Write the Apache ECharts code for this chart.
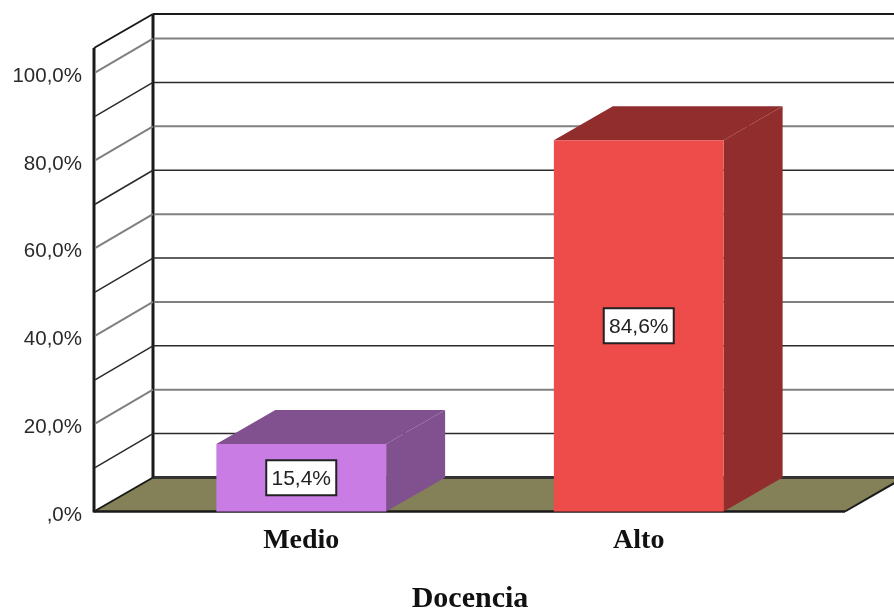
<!DOCTYPE html>
<html>
<head>
<meta charset="utf-8">
<style>html,body{margin:0;padding:0;background:#fff}#c{width:894px;height:608px}</style>
<script src="https://cdn.jsdelivr.net/npm/echarts@6/dist/echarts.min.js"></script>
</head>
<body>
<div id="c"></div>
<script>
const categories = ['Medio', 'Alto'];
const percentValues = [15.4, 84.6];
const valueLabels = ['15,4%', '84,6%'];
const tickLabels = [',0%', '20,0%', '40,0%', '60,0%', '80,0%', '100,0%'];
const gridValues = [10, 20, 30, 40, 50, 60, 70, 80, 90, 100];
const axisName = 'Docencia';
const axisMax = 105.6;

const frontColors = ['#C97CE3', '#EE4B4B'];
const sideColors = ['#81508F', '#912D2D'];
const DX = 59, DY = -34, LEFT_PAD = 38.5, RIGHT_PAD = 37.5, CANVAS_W = 894;

function planeX(api) {
  const band = api.size([1, 0])[0];
  return {
    band,
    left: api.coord([0, 0])[0] - band / 2 - LEFT_PAD,
    right: api.coord([1, 0])[0] + band / 2 + RIGHT_PAD
  };
}

const chart = echarts.init(document.getElementById('c'));
chart.setOption({
  animation: false,
  backgroundColor: '#fff',
  textStyle: { fontFamily: '"Liberation Sans", Arial, sans-serif' },
  grid: { left: 132.5, right: 86.5, top: 48, bottom: 96.5, outerBoundsMode: 'none' },
  xAxis: {
    type: 'category',
    data: categories,
    axisLine: { show: false },
    axisTick: { show: false },
    axisLabel: {
      fontFamily: '"Liberation Serif", serif', fontWeight: 'bold', fontSize: 28,
      color: '#111', margin: 15
    },
    name: axisName,
    nameLocation: 'middle',
    nameGap: 73,
    nameTextStyle: { fontFamily: '"Liberation Serif", serif', fontWeight: 'bold', fontSize: 30, color: '#111' }
  },
  yAxis: {
    type: 'value', min: 0, max: axisMax, interval: 20,
    offset: LEFT_PAD,
    axisLine: { show: false },
    axisTick: { show: false },
    splitLine: { show: false },
    axisLabel: {
      fontSize: 20.5, color: '#2a2a2a', margin: 12,
      verticalAlign: 'top', lineHeight: 7,
      formatter: v => (v % 20 === 0 ? tickLabels[v / 20] : '')
    }
  },
  series: [
    {
      // walls and floor
      type: 'custom', coordinateSystem: 'cartesian2d', silent: true, z: 1,
      data: [[0, axisMax]],
      renderItem(params, api) {
        const p = planeX(api);
        const y0 = api.coord([0, 0])[1], yT = api.coord([0, axisMax])[1];
        const stroke = (w, c) => ({ stroke: c || '#1a1a1a', lineWidth: w, fill: null });
        return {
          type: 'group',
          children: [
            { type: 'polygon', shape: { points: [[p.left, y0], [p.right, y0], [p.right + DX, y0 + DY], [p.left + DX, y0 + DY]] }, style: { fill: '#848058' } },
            { type: 'line', shape: { x1: p.left + DX, y1: y0 + DY, x2: CANVAS_W, y2: y0 + DY }, style: stroke(3, '#333') },
            { type: 'line', shape: { x1: p.left, y1: y0, x2: p.right, y2: y0 }, style: stroke(2.5) },
            { type: 'line', shape: { x1: p.right, y1: y0, x2: p.right + DX, y2: y0 + DY }, style: stroke(2) },
            { type: 'line', shape: { x1: p.left, y1: y0, x2: p.left + DX, y2: y0 + DY }, style: stroke(2) },
            { type: 'line', shape: { x1: p.left, y1: y0 + 1, x2: p.left, y2: yT }, style: stroke(3) },
            { type: 'line', shape: { x1: p.left + DX, y1: y0 + DY, x2: p.left + DX, y2: yT + DY }, style: stroke(3) },
            { type: 'line', shape: { x1: p.left, y1: yT, x2: p.left + DX, y2: yT + DY }, style: stroke(2) },
            { type: 'line', shape: { x1: p.left + DX, y1: yT + DY, x2: CANVAS_W, y2: yT + DY }, style: stroke(2) }
          ]
        };
      }
    },
    {
      // gridlines on the side and back walls
      type: 'custom', coordinateSystem: 'cartesian2d', silent: true, z: 2,
      data: gridValues.map(v => [0, v]),
      renderItem(params, api) {
        const p = planeX(api);
        const v = api.value(1);
        const y = api.coord([0, v])[1];
        const major = v % 20 === 0;
        const st = { stroke: major ? '#808080' : '#2b2b2b', lineWidth: major ? 2 : 1.5, fill: null };
        return {
          type: 'group',
          children: [
            { type: 'line', shape: { x1: p.left + 1, y1: y, x2: p.left + DX, y2: y + DY }, style: st },
            { type: 'line', shape: { x1: p.left + DX + 1, y1: y + DY, x2: CANVAS_W, y2: y + DY }, style: st }
          ]
        };
      }
    },
    {
      // 3D bars with value boxes
      type: 'custom', coordinateSystem: 'cartesian2d', silent: true, z: 3,
      data: percentValues.map((v, i) => [i, v]),
      renderItem(params, api) {
        const i = api.value(0), v = api.value(1);
        const w = api.size([1, 0])[0] * 0.503;
        const c = api.coord([i, v]), b = api.coord([i, 0]);
        const l = c[0] - w / 2, r = c[0] + w / 2, t = c[1], y0 = b[1];
        const cy = (t + y0) / 2, bw = 70, bh = 35;
        return {
          type: 'group',
          children: [
            { type: 'polygon', shape: { points: [[l, t], [r, t], [r + DX, t + DY], [l + DX, t + DY]] }, style: { fill: sideColors[i] } },
            { type: 'polygon', shape: { points: [[r, t], [r + DX, t + DY], [r + DX, y0 + DY], [r, y0]] }, style: { fill: sideColors[i] } },
            { type: 'rect', shape: { x: l, y: t, width: w, height: y0 - t }, style: { fill: frontColors[i] } },
            { type: 'rect', shape: { x: c[0] - bw / 2, y: cy - bh / 2, width: bw, height: bh }, style: { fill: '#fff', stroke: '#222', lineWidth: 2 } },
            { type: 'text', x: c[0], y: cy + 1, style: { text: valueLabels[i], x: 0, y: 0, align: 'center', verticalAlign: 'middle', fontSize: 21, fontFamily: '"Liberation Sans", Arial, sans-serif', fill: '#222' } }
          ]
        };
      }
    }
  ]
});
</script>
</body>
</html>
